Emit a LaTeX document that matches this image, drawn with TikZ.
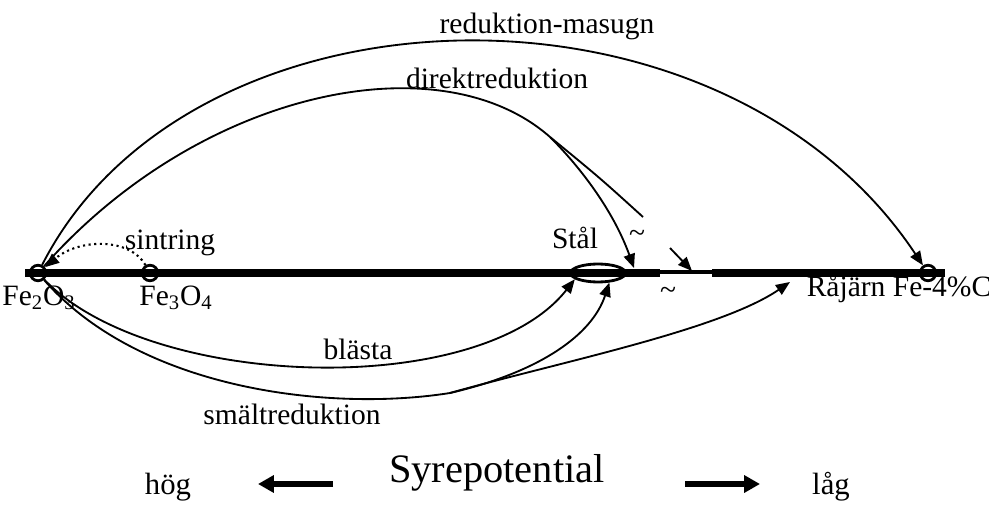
\documentclass[tikz,border=0pt]{standalone}
\usepackage{fontspec}
\setmainfont{Liberation Serif}
\usetikzlibrary{arrows.meta,shapes.geometric}

\begin{document}
\begin{tikzpicture}[x=0.02cm, y=-0.02cm, line width=1.05pt,
  >={Triangle[length=8pt,width=6.5pt]},
  lab/.style={font=\fontsize{16.8}{19}\selectfont, inner sep=0pt},
  axlab/.style={font=\fontsize{17.5}{20}\selectfont, inner sep=0pt},
  pt/.style={circle, draw, line width=1.6pt, minimum size=0.31cm, inner sep=0pt},
  axis/.style={line width=4pt},
  route/.style={->},
  bigarrow/.style={line width=2.9pt, -{Triangle[length=9pt,width=9.5pt]}}]
\useasboundingbox (0,0) rectangle (989,506);
% oxygen potential axis, broken between Stål and Råjärn
\draw[axis] (25,273) -- (660,273);
\draw[axis] (712,273) -- (945,273);
\draw[line width=2.8pt] (660,272) -- (712,272);
\node[pt] (fe2o3) at (38,273) {};
\node[pt] (fe3o4) at (150,273) {};
\node[pt] (rajarn) at (928,273) {};
\node[ellipse, draw, line width=1.6pt, minimum width=1.1cm, minimum height=0.36cm, inner sep=0pt] (staal) at (598,273) {};
\node[lab] (fe2o3lab) at (39,298) {Fe\textsubscript{2}O\textsubscript{3}};
\node[lab] (fe3o4lab) at (176,298) {Fe\textsubscript{3}O\textsubscript{4}};
\node[lab] (rajarnlab) at (899,289) {Råjärn Fe-4\%C};
\node[lab] (staallab) at (575,238) {Stål};
\node[lab] (sintlab) at (170,243) {sintring};
\node[lab] (masugnlab) at (547,26) {reduktion-masugn};
\node[lab] (direktlab) at (497,78) {direktreduktion};
\node[lab] (blastalab) at (358,349) {blästa};
\node[lab] (smaltlab) at (292,414) {smältreduktion};
\node[lab] (tildeA) at (637,236) {\textasciitilde};
\node[lab] (tildeB) at (668,293) {\textasciitilde};
\coordinate (dsplit) at (550,137);
\coordinate (dend) at (643,217);
\coordinate (dtip) at (634,268);
\coordinate (gstart) at (670,248);
\coordinate (gtip) at (692,271);
\coordinate (ssplit) at (450,393);
\coordinate (rtip) at (790,282);
% routes above the axis
\draw[route] (fe2o3) .. controls (190,-25) and (720,-40) .. (rajarn);
\draw (fe2o3) .. controls (200,90) and (440,40) .. (dsplit);
\draw (dsplit) .. controls (600,178) .. (dend);
\draw[route] (dsplit) .. controls (585,172) and (615,215) .. (dtip);
\draw[route] (gstart) -- (gtip);
\draw[route, dotted, line width=1.2pt] (fe3o4) .. controls (130,238) and (80,238) .. (fe2o3);
% routes below the axis
\draw[route] (fe2o3) .. controls (150,390) and (480,400) .. (staal.-165);
\draw (fe2o3) .. controls (140,390) and (330,412) .. (ssplit);
\draw[route] (ssplit) .. controls (540,372) and (592,335) .. (staal.-40);
\draw[route] (ssplit) .. controls (560,362) and (720,330) .. (rtip);
% oxygen potential scale
\node[axlab] (hog) at (168,487) {hög};
\node[font=\fontsize{23}{26}\selectfont, inner sep=0pt] (syre) at (497,473) {Syrepotential};
\node[axlab] (lag) at (831,487) {låg};
\coordinate (leftA) at (333,484);
\coordinate (leftB) at (258,484);
\coordinate (rightA) at (685,484);
\coordinate (rightB) at (760,484);
\draw[bigarrow] (leftA) -- (leftB);
\draw[bigarrow] (rightA) -- (rightB);
\end{tikzpicture}
\end{document}
